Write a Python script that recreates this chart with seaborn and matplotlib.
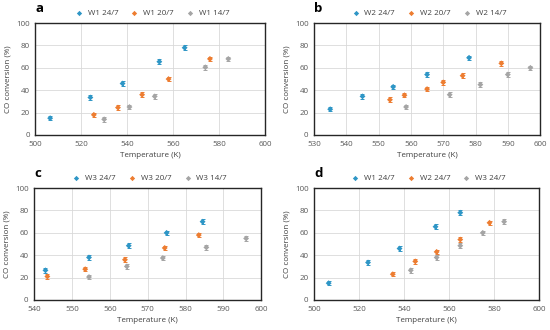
import numpy as np
import pandas as pd
import matplotlib
matplotlib.use('Agg')
import matplotlib.pyplot as plt
import seaborn as sns

# Panel a: W1 at three dates
a_t_24 = [506.5, 524, 538, 554, 565]
a_y_24 = [15, 33.5, 46, 65.5, 78]
a_t_20 = [525.5, 536, 546.5, 558, 576]
a_y_20 = [18, 24.5, 36, 50, 68]
a_t_14 = [530, 541, 552, 574, 584]
a_y_14 = [14, 25, 34.5, 60.5, 68]

# Panel b: W2
b_t_24 = [535, 545, 554.5, 565, 578]
b_y_24 = [23, 34.5, 43, 54, 69]
b_t_20 = [553.5, 558, 565, 570, 576, 588]
b_y_20 = [31.5, 35.5, 41, 47, 53, 64]
b_t_14 = [558.5, 572, 581.5, 590, 597]
b_y_14 = [25, 36, 45, 54, 60]

# Panel c: W3
c_t_24 = [543, 554.5, 565, 575, 584.5]
c_y_24 = [26.5, 38, 48.5, 60, 70]
c_t_20 = [543.5, 553.5, 564, 574.5, 583.5]
c_y_20 = [21, 27.5, 36, 46.5, 58]
c_t_14 = [554.5, 564.5, 574, 585.5, 596]
c_y_14 = [20.5, 30, 37.5, 47, 55]

err = 2.0

blue = '#2E96C6'
orange = '#ED7D31'
gray = '#A5A5A5'
colors = [blue, orange, gray]

panels = [
    ('a', [0.064, 0.591, 0.418, 0.339], (500, 600, 20),
     [('W1 24/7', a_t_24, a_y_24), ('W1 20/7', a_t_20, a_y_20), ('W1 14/7', a_t_14, a_y_14)]),
    ('b', [0.571, 0.591, 0.411, 0.339], (530, 600, 10),
     [('W2 24/7', b_t_24, b_y_24), ('W2 20/7', b_t_20, b_y_20), ('W2 14/7', b_t_14, b_y_14)]),
    ('c', [0.062, 0.091, 0.413, 0.339], (540, 600, 10),
     [('W3 24/7', c_t_24, c_y_24), ('W3 20/7', c_t_20, c_y_20), ('W3 14/7', c_t_14, c_y_14)]),
    ('d', [0.571, 0.091, 0.409, 0.339], (500, 600, 20),
     [('W1 24/7', a_t_24, a_y_24), ('W2 24/7', b_t_24, b_y_24), ('W3 24/7', c_t_24, c_y_24)]),
]

sns.set_theme(style='whitegrid')
plt.rcParams['font.family'] = ['Open Sans', 'DejaVu Sans']

fig = plt.figure(figsize=(5.5, 3.3), dpi=100)

for letter, pos, (xmin, xmax, step), series in panels:
    ax = fig.add_axes(pos)
    rows = []
    for name, t, y in series:
        rows += [{'T': ti, 'CO': yi, 'series': name} for ti, yi in zip(t, y)]
    df = pd.DataFrame(rows)
    names = [s[0] for s in series]
    for (name, t, y), col in zip(series, colors):
        ax.errorbar(t, y, yerr=err, fmt='none', ecolor=col, elinewidth=0.7,
                    capsize=1.3, capthick=0.7, zorder=3)
    sns.scatterplot(data=df, x='T', y='CO', hue='series', hue_order=names,
                    palette=colors, marker='D', s=9, linewidth=0, ax=ax, zorder=4)
    ax.set_xlim(xmin, xmax)
    ax.set_ylim(0, 100)
    ax.set_xticks(np.arange(xmin, xmax + 1, step))
    ax.set_yticks(np.arange(0, 101, 20))
    ax.grid(True, color='#D9D9D9', linewidth=0.6)
    for sp in ax.spines.values():
        sp.set_color('#262626')
        sp.set_linewidth(1.0)
    ax.tick_params(axis='both', labelsize=5.8, colors='#595959', length=0, pad=4)
    ax.set_xlabel('Temperature (K)', fontsize=5.8, color='#404040', labelpad=3)
    ax.set_ylabel('CO conversion (%)', fontsize=5.8, color='#404040', labelpad=3)
    ax.text(0.0, 1.07, letter, transform=ax.transAxes, fontsize=9.5, fontweight='bold',
            color='black', ha='left', va='bottom')
    leg = ax.legend(loc='lower center', bbox_to_anchor=(0.5, 1.0), ncol=3, frameon=False,
                    fontsize=5.8, handletextpad=0.1, columnspacing=1.0, markerscale=0.9,
                    borderaxespad=0.3)
    for txt in leg.get_texts():
        txt.set_color('#404040')

fig.savefig('out.png', dpi=100)
